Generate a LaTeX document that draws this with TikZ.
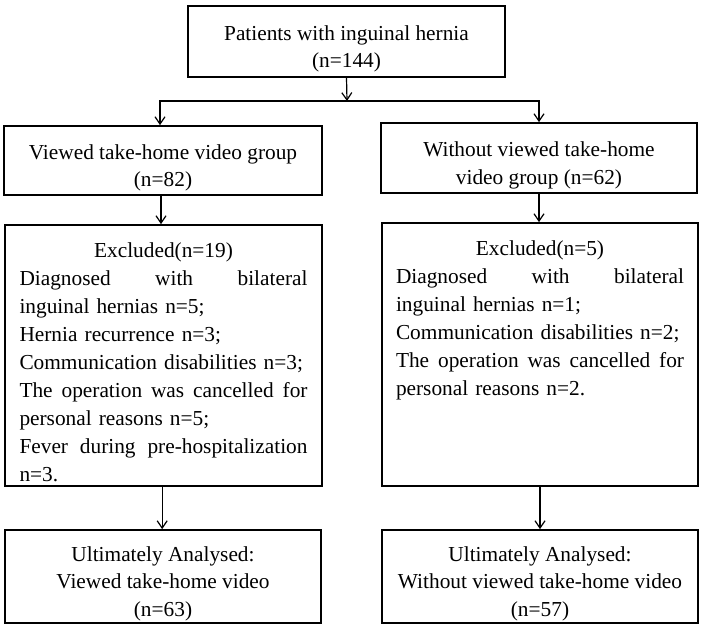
\documentclass[tikz,border=0pt]{standalone}
\usepackage{fontspec}
\setmainfont{Liberation Serif}
\usetikzlibrary{arrows.meta}
\begin{document}
\begin{tikzpicture}[x=0.75pt,y=-0.75pt,
  box/.style={draw, line width=1.3pt, inner sep=0pt},
  btxt/.style={inner sep=0pt, align=center, font=\fontsize{16}{20.5}\selectfont, yshift=-5.5pt},
  conn/.style={line width=0.9pt, -{Straight Barb[length=5.5pt,width=7.5pt,line width=0.9pt]}},
  txt/.style={inner sep=0pt, font=\fontsize{16}{21}\selectfont, text width=216pt, align=left, anchor=north}
]
\useasboundingbox (0,0) rectangle (702,630);
\fill[white] (0,0) rectangle (702,630);

\node[box, minimum width=237.75pt, minimum height=53.25pt] (top) at (346.5,41.5) {};
\node[box, minimum width=238.5pt, minimum height=51.75pt] (A) at (163,160.5) {};
\node[box, minimum width=237pt, minimum height=52.5pt] (B) at (539,158) {};
\node[box, minimum width=237.75pt, minimum height=195.75pt] (exA) at (163.5,355.5) {};
\node[box, minimum width=237pt, minimum height=197.25pt] (exB) at (540,354.5) {};
\node[box, minimum width=237pt, minimum height=69.75pt] (finA) at (163,576.5) {};
\node[box, minimum width=237pt, minimum height=69.75pt] (finB) at (540,576.5) {};

\node[btxt] (topT) at (top.center) {Patients with inguinal hernia\\(n=144)};
\node[btxt] (AT) at (A.center) {Viewed take-home video group\\(n=82)};
\node[btxt] (BT) at (B.center) {Without viewed take-home\\video group (n=62)};
\node[btxt] (finAT) at (finA.center) {Ultimately Analysed:\\Viewed take-home video\\(n=63)};
\node[btxt] (finBT) at (finB.center) {Ultimately Analysed:\\Without viewed take-home video\\(n=57)};

\node[txt] (exAt) at ([yshift=-14pt]exA.north) {%
\makebox[216pt]{Excluded(n=19)}\\
\makebox[216pt][l]{Diagnosed\hfill with\hfill bilateral}\\
inguinal hernias n=5;\\
Hernia recurrence n=3;\\
Communication disabilities n=3;\\
\makebox[216pt][l]{The\hfill operation\hfill was\hfill cancelled\hfill for}\\
personal reasons n=5;\\
\makebox[216pt][l]{Fever\hfill during\hfill pre-hospitalization}\\
n=3.};
\node[txt] (exBt) at ([yshift=-14pt]exB.north) {%
\makebox[216pt]{Excluded(n=5)}\\
\makebox[216pt][l]{Diagnosed\hfill with\hfill bilateral}\\
inguinal hernias n=1;\\
Communication disabilities n=2;\\
\makebox[216pt][l]{The\hfill operation\hfill was\hfill cancelled\hfill for}\\
personal reasons n=2.};

\coordinate (split) at (347,101);
\draw[conn] (top.south) -- (split);
\draw[conn] (split) -| ([xshift=-2.25pt]A.north);
\draw[conn] (split) -| (B.north);
\draw[conn] ([xshift=-1.5pt]A.south) -- ([xshift=-1.5pt]A.south |- exA.north);
\draw[conn] (B.south) -- (B.south |- exB.north);
\draw[conn] ([xshift=-1pt]exA.south) -- ([xshift=-1pt]exA.south |- finA.north);
\draw[conn] (exB.south) -- (exB.south |- finB.north);
\end{tikzpicture}
\end{document}
